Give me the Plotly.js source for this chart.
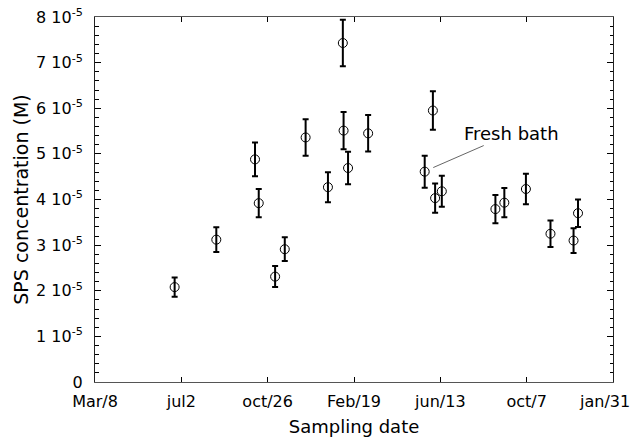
<!DOCTYPE html>
<html>
<head>
<meta charset="utf-8">
<script src="https://cdn.plot.ly/plotly-3.0.1.min.js"></script>
<style>
  html, body { margin: 0; padding: 0; background: #fff; }
  #chart { width: 633px; height: 437px; }
</style>
</head>
<body>
<div id="chart"></div>
<script>
// Sampling day, counted in days from Mar/8
const samplingDay = [107, 163, 215, 220, 242, 255, 283, 313, 333, 334, 340, 367, 443, 454, 457, 466, 538, 550, 579, 612, 643, 649];
// SPS concentration (M)
const spsConc = [2.08e-5, 3.12e-5, 4.88e-5, 3.92e-5, 2.31e-5, 2.91e-5, 5.36e-5, 4.27e-5, 7.43e-5, 5.51e-5, 4.69e-5, 5.45e-5,
                 4.61e-5, 5.95e-5, 4.03e-5, 4.18e-5, 3.79e-5, 3.93e-5, 4.23e-5, 3.25e-5, 3.10e-5, 3.70e-5];
// error (M)
const spsErr = [0.21e-5, 0.27e-5, 0.37e-5, 0.31e-5, 0.23e-5, 0.26e-5, 0.40e-5, 0.33e-5, 0.51e-5, 0.41e-5, 0.355e-5, 0.40e-5,
                0.35e-5, 0.42e-5, 0.32e-5, 0.34e-5, 0.31e-5, 0.32e-5, 0.335e-5, 0.29e-5, 0.27e-5, 0.30e-5];

// x tick positions (days from Mar/8) and labels
const xTickVals = [0, 116, 232, 348, 464, 580, 696];
const xTickText = ['Mar/8', 'jul2', 'oct/26', 'Feb/19', 'jun/13', 'oct/7', 'jan/31'];
// y tick positions and labels
const yTickVals = [0, 1e-5, 2e-5, 3e-5, 4e-5, 5e-5, 6e-5, 7e-5, 8e-5];
const yTickText = ['0', '1 10<sup>-5</sup>', '2 10<sup>-5</sup>', '3 10<sup>-5</sup>', '4 10<sup>-5</sup>',
                   '5 10<sup>-5</sup>', '6 10<sup>-5</sup>', '7 10<sup>-5</sup>', '8 10<sup>-5</sup>'];

// annotation
const noteText = 'Fresh bath';
const noteDay = 454.5;
const noteConc = 4.70e-5;

const FONT = 'DejaVu Sans, Liberation Sans, Arial, sans-serif';

// the last x tick label sits at the right edge of the figure: draw it right-aligned
const lastIdx = xTickText.length - 1;
const axisTickText = xTickText.map((t, i) => (i === lastIdx ? '' : t));

const trace = {
  type: 'scatter',
  mode: 'markers',
  x: samplingDay,
  y: spsConc,
  marker: { symbol: 'circle-open', size: 9, color: '#000', line: { width: 1, color: '#000' } },
  error_y: { type: 'data', array: spsErr, visible: true, color: '#000', thickness: 2, width: 3 },
  hoverinfo: 'x+y',
  showlegend: false
};

const layout = {
  width: 633,
  height: 437,
  margin: { l: 95, r: 20, t: 17, b: 55, pad: 0 },
  paper_bgcolor: '#fff',
  plot_bgcolor: '#fff',
  font: { family: FONT, size: 16, color: '#000' },
  xaxis: {
    range: [0, 696],
    tickmode: 'array',
    tickvals: xTickVals,
    ticktext: axisTickText,
    ticks: 'inside',
    ticklen: 5,
    tickwidth: 1,
    tickcolor: '#000',
    showline: true,
    linecolor: '#555',
    linewidth: 1,
    mirror: 'ticks',
    showgrid: false,
    zeroline: false,
    ticklabelstandoff: 5,
    tickfont: { family: FONT, size: 16, color: '#000' },
    title: { text: 'Sampling date', font: { family: FONT, size: 18, color: '#000' }, standoff: 11 }
  },
  yaxis: {
    range: [0, 8e-5],
    tickmode: 'array',
    tickvals: yTickVals,
    ticktext: yTickText,
    ticks: 'inside',
    ticklen: 6,
    tickwidth: 1,
    tickcolor: '#000',
    minor: { tickmode: 'linear', tick0: 0, dtick: 0.2e-5, ticks: 'inside', ticklen: 3.5, tickwidth: 1, tickcolor: '#000', showgrid: false },
    showline: true,
    linecolor: '#222',
    linewidth: 1,
    mirror: 'ticks',
    showgrid: false,
    zeroline: false,
    ticklabelstandoff: 8,
    tickfont: { family: FONT, size: 16, color: '#000' },
    title: { text: 'SPS concentration (M)', font: { family: FONT, size: 19, color: '#000' }, standoff: 2 }
  },
  annotations: [{
    x: noteDay,
    y: noteConc,
    xref: 'x',
    yref: 'y',
    text: noteText,
    showarrow: true,
    arrowhead: 0,
    arrowwidth: 1,
    arrowcolor: '#666',
    ax: 78,
    ay: -34,
    font: { family: FONT, size: 18, color: '#000' }
  }, {
    x: xTickVals[lastIdx],
    xref: 'x',
    y: 0,
    yref: 'paper',
    xanchor: 'right',
    yanchor: 'top',
    xshift: 19,
    yshift: -8,
    text: xTickText[lastIdx],
    showarrow: false,
    font: { family: FONT, size: 16, color: '#000' }
  }]
};

Plotly.newPlot('chart', [trace], layout, { displayModeBar: false, staticPlot: true });
</script>
</body>
</html>
